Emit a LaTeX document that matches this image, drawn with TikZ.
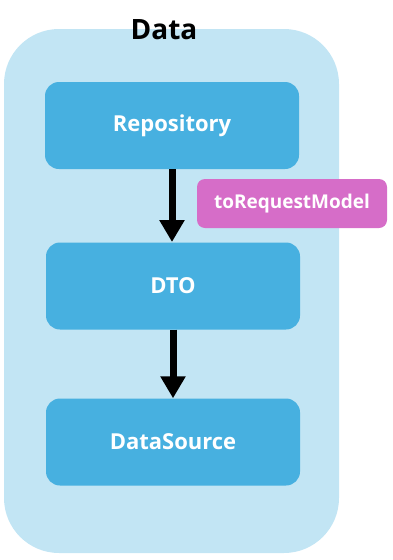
\documentclass[tikz,border=0pt]{standalone}
\usepackage{fontspec}
\setmainfont{Open Sans}
\usetikzlibrary{arrows.meta}
\definecolor{outerbg}{HTML}{C2E5F4}
\definecolor{boxblue}{HTML}{47B0E0}
\definecolor{magbox}{HTML}{D66DC8}
\tikzset{
  layerbox/.style={fill=boxblue, rounded corners=14pt, minimum width=254pt, minimum height=87pt, inner sep=0pt, text=white, font=\bfseries\fontsize{22}{26}\selectfont},
  tagbox/.style={fill=magbox, rounded corners=8pt, minimum width=190pt, minimum height=49pt, inner sep=0pt, text=white, font=\bfseries\fontsize{19}{22}\selectfont},
  flow/.style={line width=7pt, -{Triangle[width=24pt,length=22pt]}}
}
\begin{document}
\begin{tikzpicture}[x=1pt,y=-1pt]
\useasboundingbox (0,0) rectangle (392,560);
\fill[outerbg, rounded corners=55pt] (4,29) rectangle (339,553);
\node[font=\bfseries\fontsize{28}{32}\selectfont] (title) at (164,30) {Data};
\node[layerbox] (repo) at (172,125.5) {Repository};
\node[layerbox] (dto) at (173,286) {DTO};
\node[layerbox] (ds) at (173,442) {DataSource};
\node[tagbox] (tag) at (292,203.5) {toRequestModel};
\draw[flow] (repo.south -| 172,0) -- (172,242);
\draw[flow] (dto.south) -- (ds.north);
\end{tikzpicture}
\end{document}
